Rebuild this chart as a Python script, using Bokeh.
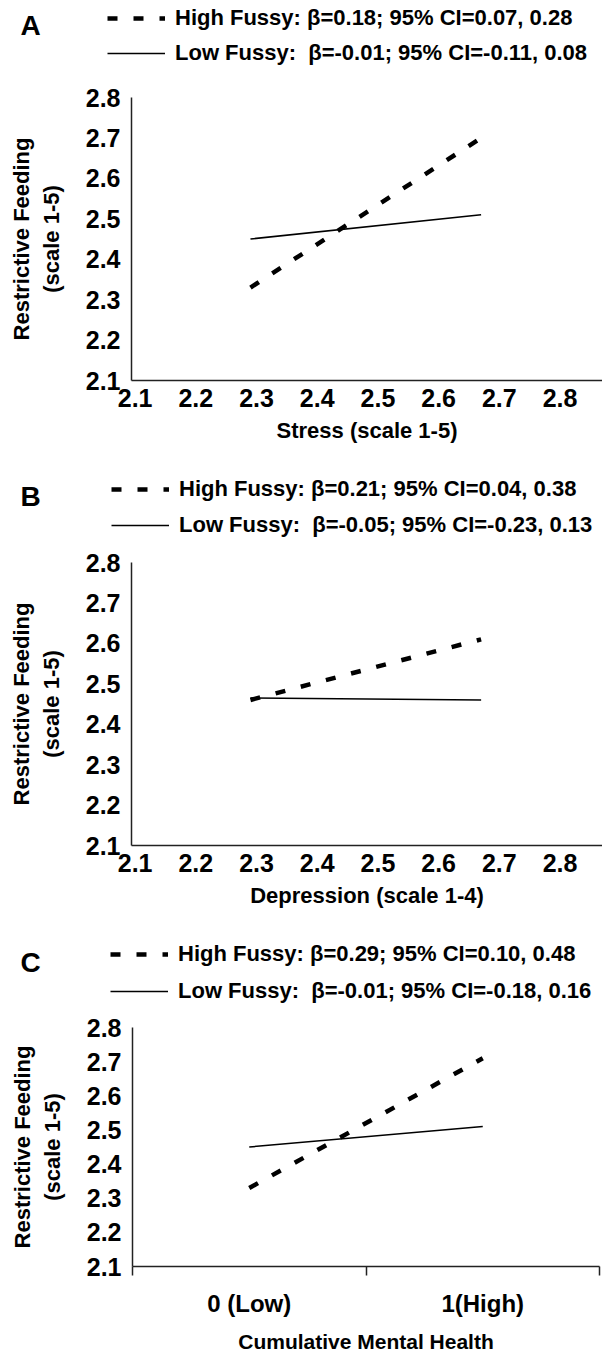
from bokeh.plotting import figure
from bokeh.models import Range1d, FixedTicker, Legend, LegendItem, Label
from bokeh.layouts import column
from bokeh.embed import file_html
from bokeh.resources import INLINE

FONT = "Liberation Sans"

# ---------------- data ----------------
y_ticks = [2.1, 2.2, 2.3, 2.4, 2.5, 2.6, 2.7, 2.8]
x_ticks = [2.1, 2.2, 2.3, 2.4, 2.5, 2.6, 2.7, 2.8]
y_title = "Restrictive Feeding\n(scale 1-5)"

panel_letters = ["A", "B", "C"]
x_titles = ["Stress (scale 1-5)", "Depression (scale 1-4)", "Cumulative Mental Health"]

high_labels = [
    "High Fussy: β=0.18; 95% CI=0.07, 0.28",
    "High Fussy: β=0.21; 95% CI=0.04, 0.38",
    "High Fussy: β=0.29; 95% CI=0.10, 0.48",
]
low_labels = [
    "Low Fussy:  β=-0.01; 95% CI=-0.11, 0.08",
    "Low Fussy:  β=-0.05; 95% CI=-0.23, 0.13",
    "Low Fussy:  β=-0.01; 95% CI=-0.18, 0.16",
]

a_x = [2.29, 2.67]
a_high = [2.33, 2.70]
a_low = [2.45, 2.51]

b_x = [2.29, 2.67]
b_high = [2.46, 2.61]
b_low = [2.465, 2.46]

c_categories = ["0 (Low)", "1(High)"]
c_high = [2.33, 2.71]
c_low = [2.45, 2.51]

HIGH_STYLE = dict(line_width=4.5, line_dash="10 16", line_color="black", line_cap="butt")
LOW_STYLE = dict(line_width=1.5, line_color="black")
W = 602


def header(idx, xs, high, low, height, vx, vy, spacing, letter_y):
    """Panel letter and legend strip drawn above each panel.
    The legend renderers hold the panel's series but lie outside this strip's ranges."""
    h = figure(width=W, height=height, output_backend="svg", toolbar_location=None,
               x_range=Range1d(-10, -9), y_range=Range1d(-10, -9),
               x_axis_location=None, y_axis_location=None, min_border=0)
    h.frame_align = False
    h.xgrid.visible = False
    h.ygrid.visible = False
    h.outline_line_color = None
    r_high = h.line(xs, high, **HIGH_STYLE)
    r_low = h.line(xs, low, **LOW_STYLE)
    legend = Legend(
        items=[LegendItem(label=high_labels[idx], renderers=[r_high]),
               LegendItem(label=low_labels[idx], renderers=[r_low])],
        location=(vx, vy), orientation="vertical",
        glyph_width=58, glyph_height=20, label_height=26, spacing=spacing,
        padding=0, margin=0, label_standoff=10,
        border_line_color=None, background_fill_alpha=0,
        label_text_font=FONT, label_text_font_style="bold",
        label_text_font_size="22px", label_text_color="black",
    )
    h.add_layout(legend)
    h.add_layout(Label(x=20, y=letter_y, x_units="screen", y_units="screen",
                       text=panel_letters[idx], text_font=FONT, text_font_style="bold",
                       text_font_size="28px", text_align="left", text_baseline="middle",
                       text_color="black"))
    return h


def style_common(p):
    p.frame_align = False
    p.xgrid.visible = False
    p.ygrid.visible = False
    p.outline_line_color = None
    p.background_fill_color = "white"
    p.border_fill_color = "white"
    for ax in (p.xaxis[0], p.yaxis[0]):
        ax.axis_line_color = "#222222"
        ax.axis_line_width = 1.5
        ax.major_label_text_font = FONT
        ax.major_label_text_font_style = "bold"
        ax.major_label_text_color = "black"
        ax.axis_label_text_font = FONT
        ax.axis_label_text_font_style = "bold"
        ax.axis_label_text_color = "black"
        ax.major_tick_out = 0
        ax.major_tick_in = 0
    ya = p.yaxis[0]
    ya.ticker = FixedTicker(ticks=y_ticks)
    ya.major_tick_line_color = None
    ya.minor_tick_line_color = None
    ya.major_label_text_font_size = "25px"
    ya.major_label_standoff = 11
    ya.axis_label = y_title
    ya.axis_label_text_font_size = "22px"
    ya.axis_label_standoff = 19


def numeric_panel(idx, xs, high, low, height, top, bottom):
    p = figure(width=W, height=height, output_backend="svg", toolbar_location=None,
               x_range=Range1d(2.094, 2.87), y_range=Range1d(2.1, 2.8),
               min_border_left=131, min_border_right=0,
               min_border_top=top, min_border_bottom=bottom)
    style_common(p)
    xa = p.xaxis[0]
    xa.ticker = FixedTicker(ticks=x_ticks)
    xa.major_tick_line_color = None
    xa.minor_tick_line_color = None
    xa.major_label_text_font_size = "25px"
    xa.major_label_standoff = 8
    xa.axis_label = x_titles[idx]
    xa.axis_label_text_font_size = "22px"
    xa.axis_label_standoff = 8
    p.line(xs, high, **HIGH_STYLE)
    p.line(xs, low, **LOW_STYLE)
    return p


c_pos = list(range(len(c_categories)))

hA = header(0, a_x, a_high, a_low, 78, 107, 12, 9, 53)
pA = numeric_panel(0, a_x, a_high, a_low, 377, 19, 75)
hB = header(1, b_x, b_high, b_low, 90, 111, 7, 10, 49)
pB = numeric_panel(1, b_x, b_high, b_low, 380, 17, 80)
hC = header(2, c_pos, c_high, c_low, 85, 110, 6, 11, 48)

# Panel C: two categories placed at integer positions
pC = figure(width=W, height=345, output_backend="svg", toolbar_location=None,
            x_range=Range1d(-0.5, len(c_categories) - 0.5), y_range=Range1d(2.1, 2.8),
            min_border_left=132, min_border_right=3,
            min_border_top=17, min_border_bottom=77)
style_common(pC)
xa = pC.xaxis[0]
xa.ticker = FixedTicker(ticks=c_pos, minor_ticks=[-0.5, 0.5, 1.5])
xa.major_label_overrides = {i: c for i, c in zip(c_pos, c_categories)}
xa.major_tick_line_color = None
xa.minor_tick_line_color = "#222222"
xa.minor_tick_line_width = 1.5
xa.minor_tick_out = 9
xa.minor_tick_in = 0
xa.major_label_text_font_size = "24px"
xa.major_label_standoff = 14
xa.axis_label = x_titles[2]
xa.axis_label_text_font_size = "21px"
xa.axis_label_standoff = 10
pC.line(c_pos, c_high, **HIGH_STYLE)
pC.line(c_pos, c_low, **LOW_STYLE)

layout = column(hA, pA, hB, pB, hC, pC, spacing=0)
open("out.html", "w").write(file_html(layout, INLINE))
